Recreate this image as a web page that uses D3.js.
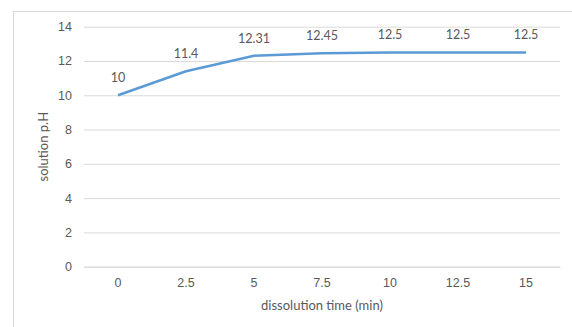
<!DOCTYPE html>
<html>
<head>
<meta charset="utf-8">
<script src="https://cdn.jsdelivr.net/npm/d3@7"></script>
<style>
  html, body { margin: 0; padding: 0; background: #fff; }
  svg { display: block; font-family: Lato, "Open Sans", sans-serif; }
</style>
</head>
<body>
<svg id="chart" width="572" height="327"></svg>
<script>
// dissolution time categories (min) and measured solution pH
const times = ["0", "2.5", "5", "7.5", "10", "12.5", "15"];
const phValues = [10, 11.4, 12.31, 12.45, 12.5, 12.5, 12.5];
const yTicks = [0, 2, 4, 6, 8, 10, 12, 14];

const svg = d3.select("#chart");
const W = 572, H = 327;
const plot = { left: 84, right: 560, top: 26.7, bottom: 266.7 };

// outer chart frame (only top/left edges fall inside the canvas)
svg.append("rect")
  .attr("x", 13.5).attr("y", 11.5)
  .attr("width", W).attr("height", H)
  .attr("fill", "none").attr("stroke", "#d9d9d9").attr("stroke-width", 1);

const x = d3.scaleBand().domain(times).range([plot.left, plot.right]);
const y = d3.scaleLinear().domain([0, 14]).range([plot.bottom, plot.top]);
const cx = d => x(d) + x.bandwidth() / 2;

// horizontal gridlines
const yAxis = d3.axisLeft(y).tickValues(yTicks).tickSize(-(plot.right - plot.left)).tickPadding(12);
const gy = svg.append("g").attr("transform", `translate(${plot.left},0)`).call(yAxis);
gy.select(".domain").remove();
gy.selectAll(".tick line").attr("stroke", "#d9d9d9").attr("stroke-width", 1);
gy.selectAll(".tick text").attr("fill", "#595959").attr("font-size", 12.5);

// category axis along pH = 0
const xAxis = d3.axisBottom(x).tickSize(0).tickPadding(11);
const gx = svg.append("g").attr("transform", `translate(0,${plot.bottom})`).call(xAxis);
gx.select(".domain").attr("stroke", "#d9d9d9");
gx.selectAll(".tick text").attr("fill", "#595959").attr("font-size", 12.5);

// pH curve
const line = d3.line().x((d, i) => cx(times[i])).y(d => y(d));
svg.append("path")
  .datum(phValues)
  .attr("d", line)
  .attr("fill", "none")
  .attr("stroke", "#5b9bd5")
  .attr("stroke-width", 2.5)
  .attr("stroke-linejoin", "round");

// value labels above each point
svg.append("g").selectAll("text")
  .data(phValues)
  .join("text")
  .attr("x", (d, i) => cx(times[i]))
  .attr("y", d => y(d) - 13)
  .attr("text-anchor", "middle")
  .attr("fill", "#595959")
  .attr("font-size", 12.5)
  .text(d => d);

// axis titles
svg.append("text")
  .attr("x", (plot.left + plot.right) / 2)
  .attr("y", 310)
  .attr("text-anchor", "middle")
  .attr("fill", "#595959")
  .attr("font-size", 13)
  .text("dissolution time (min)");

svg.append("text")
  .attr("transform", `translate(48,${(plot.top + plot.bottom) / 2}) rotate(-90)`)
  .attr("text-anchor", "middle")
  .attr("fill", "#595959")
  .attr("font-size", 13)
  .text("solution p.H");
</script>
</body>
</html>
